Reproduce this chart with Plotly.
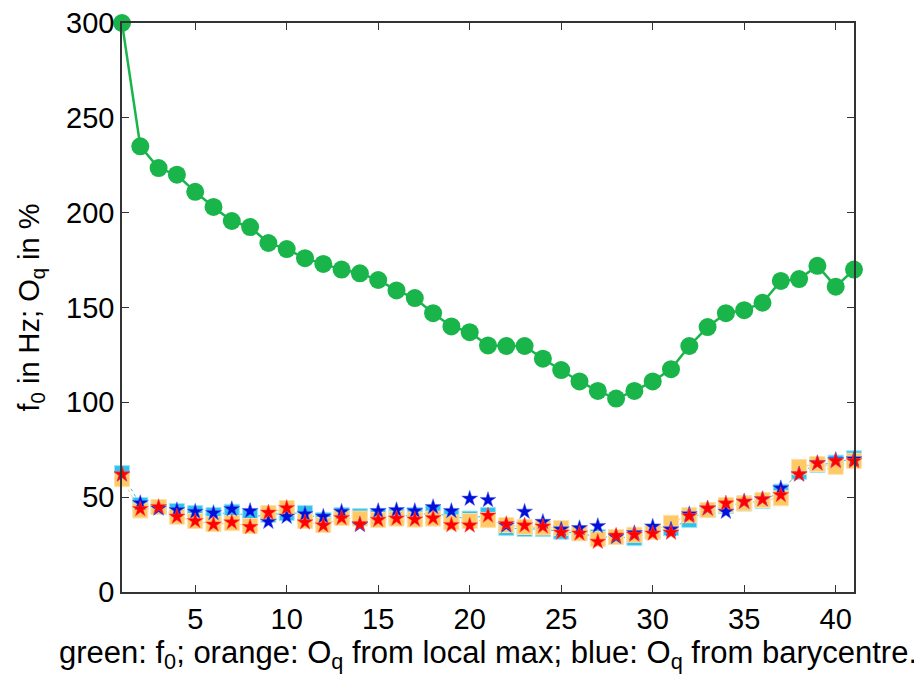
import plotly.graph_objects as go

x = list(range(1, 42))

f0 = [300, 235, 223.5, 220, 211, 203, 195.6, 192.4, 184, 180.8,
      176, 173, 170, 168, 164.5, 159, 155, 147, 140, 137,
      130, 129.7, 129.7, 123, 117, 111, 106, 102, 106, 111,
      117.5, 129.7, 139.7, 147, 148.6, 152.5, 164, 165, 172, 161, 170]

oq_bary_sq = [62.7, 45.9, 44.8, 42.7, 41.6, 40.6, 42.3, 39.7, 40.6, 41.6,
              41.6, 38, 40.6, 40, 40, 40, 40.6, 41.6, 39.7, 38.7,
              40.6, 33.7, 33.2, 33.2, 31.8, 31, 29, 29, 28.4, 31.8,
              33.7, 38, 43.2, 45.3, 46.7, 48.1, 52.9, 63.4, 67, 68.2, 70.5]

oq_max_sq = [59.5, 43, 44.8, 39.7, 37.4, 35.8, 36.3, 34.8, 41.6, 44.3,
             37.4, 35.3, 39, 38.7, 38, 38.7, 38.2, 38.7, 36.7, 37.4,
             38, 35.3, 34.3, 34, 33.7, 31, 27.9, 29, 30.2, 31.8,
             36.5, 40.5, 43.2, 45.9, 46.7, 48.5, 49.4, 66, 67.5, 66, 69.2]

oq_bary_star = [62, 46.9, 44, 43.2, 42.3, 41.6, 43.7, 42.7, 37, 39.7,
                41.1, 39.7, 42.3, 35.3, 42.7, 43.2, 42.7, 44.8, 42.7, 49.2,
                48.5, 35, 42.3, 37, 33, 33.7, 34.8, 29, 31, 34.5,
                33, 41, 44, 42.3, 47.6, 48.9, 54.7, 62, 68, 69.6, 70]

oq_max_star = [62, 43.7, 44.8, 39.7, 37.4, 35.6, 36.7, 34.3, 41.8, 44.3,
               36.7, 35.1, 39, 35.8, 38, 38.7, 38.2, 38.9, 35.3, 35.1,
               40.3, 35.8, 35.1, 34.5, 31.3, 30.8, 26.5, 29.7, 30.2, 30.8,
               31.3, 40, 44.1, 46.7, 47.6, 48.9, 51.1, 62, 67.8, 69, 69]

x_ticks = [5, 10, 15, 20, 25, 30, 35, 40]
y_ticks = [0, 50, 100, 150, 200, 250, 300]

CYAN = "#2DC3EC"
ORANGE = "#FFC966"
GREEN = "#19B54B"

fig = go.Figure()

fig.add_trace(go.Scatter(
    x=x, y=oq_bary_sq, mode="lines+markers",
    line=dict(color=CYAN, width=1, dash="dot"),
    marker=dict(symbol="square", size=15, color=CYAN,
                line=dict(color="#9BE3F7", width=1)),
    cliponaxis=False, showlegend=False))

fig.add_trace(go.Scatter(
    x=x, y=oq_max_sq, mode="lines+markers",
    line=dict(color=ORANGE, width=1, dash="dot"),
    marker=dict(symbol="square", size=15, color=ORANGE,
                line=dict(color="#FFE0A8", width=1)),
    cliponaxis=False, showlegend=False))

fig.add_trace(go.Scatter(
    x=x, y=oq_bary_star, mode="markers",
    marker=dict(symbol="star", size=12, color="#0010D8",
                line=dict(color="#5060F0", width=0.5)),
    cliponaxis=False, showlegend=False))

fig.add_trace(go.Scatter(
    x=x, y=oq_max_star, mode="markers",
    marker=dict(symbol="star", size=12, color="#FF0000",
                line=dict(color="#FF5050", width=0.5)),
    cliponaxis=False, showlegend=False))

fig.add_trace(go.Scatter(
    x=x, y=f0, mode="lines+markers",
    line=dict(color=GREEN, width=2.5),
    marker=dict(symbol="circle", size=18, color=GREEN),
    cliponaxis=False, showlegend=False))

font_family = "Liberation Sans"

fig.update_layout(
    width=914, height=669,
    margin=dict(l=114, r=68, t=15, b=85),
    paper_bgcolor="white", plot_bgcolor="white",
    font=dict(family=font_family, size=29, color="black"),
    xaxis=dict(
        range=[1, 41], tickvals=x_ticks, ticktext=[str(v) for v in x_ticks],
        ticks="inside", ticklen=7, tickcolor="#333333",
        showline=True, linecolor="#333333", linewidth=1.5, mirror="ticks",
        showgrid=False, zeroline=False, ticklabeloverflow="allow",
        automargin=False,
        tickfont=dict(family=font_family, size=29),
        title=dict(text="green: f<sub>0</sub>; orange: O<sub>q</sub> from local max; blue: O<sub>q</sub> from barycentre.",
                   font=dict(family=font_family, size=31), standoff=0),
    ),
    yaxis=dict(
        range=[0, 300], tickvals=y_ticks, ticktext=[str(v) for v in y_ticks],
        ticks="inside", ticklen=7, tickcolor="#333333",
        showline=True, linecolor="#333333", linewidth=1.5, mirror="ticks",
        showgrid=False, zeroline=False, ticklabeloverflow="allow",
        automargin=False,
        tickfont=dict(family=font_family, size=29),
        title=dict(text="f<sub>0</sub> in Hz; O<sub>q</sub> in %",
                   font=dict(family=font_family, size=29), standoff=18),
    ),
)

fig.write_html("out.html")
